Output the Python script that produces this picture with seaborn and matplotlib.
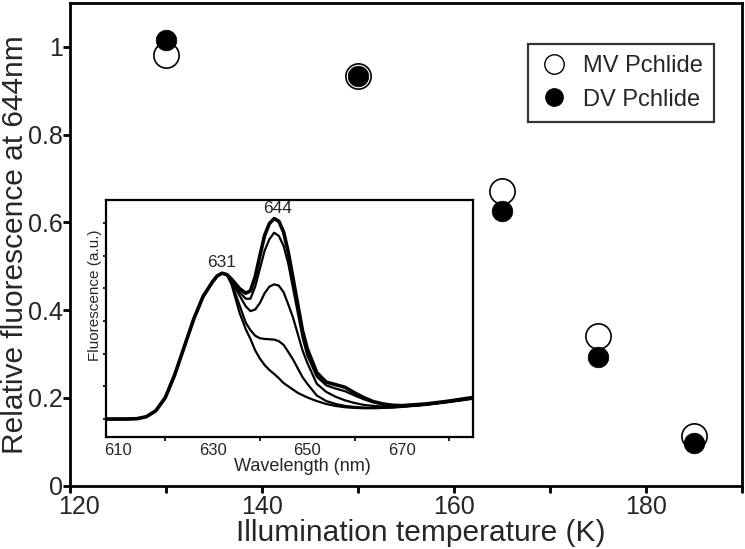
import matplotlib
matplotlib.use("Agg")
import matplotlib.pyplot as plt
import matplotlib.transforms as mtransforms
from matplotlib.lines import Line2D
import seaborn as sns
import pandas as pd

# ---------------- data ----------------
temps = [130, 150, 165, 175, 185]
mv_pchlide = [0.981, 0.933, 0.672, 0.341, 0.113]
dv_pchlide = [1.015, 0.933, 0.626, 0.294, 0.098]

x_ticks_major = [120, 140, 160, 180]
x_ticks_minor = [130, 150, 170, 190]
y_ticks = [0, 0.2, 0.4, 0.6, 0.8, 1]
y_tick_labels = ["0", "0.2", "0.4", "0.6", "0.8", "1"]

wavelength = [607.5, 610, 612, 614, 616, 618, 620, 622, 624, 626, 628, 630, 631, 632, 633,
              634, 635.7, 637, 638, 639, 640, 641, 642, 643, 644, 645, 646, 647, 648, 649,
              650, 652, 654, 656, 658, 660, 662, 664, 666, 668, 670, 675, 680, 685]
rise_shared = [0, 0, 0, 0.01, 0.07, 0.25, 0.65, 1.35, 2.2, 3.05, 3.75, 4.2, 4.38, 4.46, 4.42]
tail_a = [4.28, 3.99, 3.85, 3.92, 4.35, 5.0, 5.62, 5.98, 6.13, 6.05, 5.72, 5.1, 4.3, 3.5, 2.7,
          2.15, 1.42, 1.13, 1.05, 0.97, 0.8, 0.65, 0.53, 0.46, 0.42, 0.41, 0.46, 0.55, 0.66]
tail_b = [4.25, 3.89, 3.68, 3.68, 4.05, 4.6, 5.15, 5.5, 5.7, 5.6, 5.3, 4.75, 4.0, 3.25, 2.5,
          1.95, 1.3, 1.03, 0.93, 0.85, 0.72, 0.60, 0.51, 0.45, 0.42, 0.41, 0.46, 0.55, 0.65]
tail_c = [4.2, 3.78, 3.45, 3.30, 3.35, 3.55, 3.85, 4.05, 4.12, 4.08, 3.88, 3.5, 3.1, 2.6, 2.1,
          1.72, 1.08, 0.83, 0.68, 0.57, 0.49, 0.43, 0.40, 0.38, 0.38, 0.39, 0.45, 0.54, 0.64]
tail_d = [4.18, 3.48, 2.95, 2.72, 2.55, 2.47, 2.45, 2.44, 2.43, 2.38, 2.27, 2.05, 1.82, 1.55, 1.28,
          1.08, 0.72, 0.55, 0.46, 0.40, 0.37, 0.35, 0.34, 0.35, 0.36, 0.38, 0.44, 0.53, 0.63]
tail_e = [4.12, 3.25, 2.75, 2.45, 2.1, 1.85, 1.65, 1.5, 1.38, 1.25, 1.1, 1.0, 0.9, 0.8, 0.73,
          0.66, 0.55, 0.46, 0.40, 0.36, 0.34, 0.33, 0.33, 0.34, 0.35, 0.37, 0.43, 0.52, 0.62]
spectra_names = ["s1", "s2", "s3", "s4", "s5"]
spectra_tails = [tail_a, tail_b, tail_c, tail_d, tail_e]
spectra_widths = [2.6, 1.6, 1.6, 1.6, 1.6]

inset_xtick_labels = [610, 630, 650, 670]
inset_xtick_marks = [620, 640, 660, 680]
inset_ytick_marks = [0, 1, 2, 3, 4, 5, 6]

# ---------------- style ----------------
sns.set_theme(style="ticks")
plt.rcParams["font.family"] = ["Liberation Sans", "DejaVu Sans"]
plt.rcParams["axes.edgecolor"] = "black"

fig = plt.figure(figsize=(7.45, 5.49), dpi=100)
ax = fig.add_axes([0.0946, 0.1155, 0.9013, 0.879])

pts = pd.DataFrame({"temp": temps, "mv": mv_pchlide, "dv": dv_pchlide})
sns.scatterplot(data=pts, x="temp", y="mv", ax=ax, s=330, marker="o",
                facecolor="white", edgecolor="black", linewidth=1.2, zorder=3)
sns.scatterplot(data=pts, x="temp", y="dv", ax=ax, s=220, marker="o",
                color="black", edgecolor="black", linewidth=0.5, zorder=4)

ax.set_xlim(120, 190)
ax.set_ylim(0, 1.1)
ax.set_xticks(x_ticks_major)
ax.set_xticks(x_ticks_minor, minor=True)
ax.set_yticks(y_ticks)
ax.set_yticklabels(y_tick_labels)
for s in ax.spines.values():
    s.set_linewidth(2.0)
    s.set_color("black")
ax.tick_params(axis="both", which="both", direction="out", length=5, width=2,
               color="black", labelsize=18, pad=2)
ax.tick_params(axis="y", which="both", pad=0.5)
# nudge the first x tick label ("120") right, as in the reference
first = ax.get_xticklabels()[0]
first.set_transform(first.get_transform() +
                    mtransforms.ScaledTranslation(9 / 100, 0, fig.dpi_scale_trans))
ax.set_xlabel("Illumination temperature (K)", fontsize=21.5)
ax.xaxis.set_label_coords(0.522, -0.069)
ax.set_ylabel("Relative fluorescence at 644nm", fontsize=21.5)
ax.yaxis.set_label_coords(-0.0612, 0.5)

handles = [
    Line2D([], [], marker="o", linestyle="none", markersize=14, markerfacecolor="white",
           markeredgecolor="black", markeredgewidth=1.0),
    Line2D([], [], marker="o", linestyle="none", markersize=12.5, markerfacecolor="black",
           markeredgecolor="black"),
]
leg = ax.legend(handles, ["MV Pchlide", "DV Pchlide"], loc="upper left",
                bbox_to_anchor=(0.6815, 0.915), fontsize=17, frameon=True,
                fancybox=False, edgecolor="black", handletextpad=0.65,
                borderpad=0.48, labelspacing=0.48, handlelength=1.2, borderaxespad=0)
leg.get_frame().set_linewidth(1.6)

# ---------------- inset ----------------
axi = fig.add_axes([0.1423, 0.204, 0.4926, 0.4317], zorder=5)
axi.set_facecolor("white")
rows = []
for name, tail in zip(spectra_names, spectra_tails):
    vals = rise_shared + tail
    for w, v in zip(wavelength, vals):
        rows.append({"wl": w, "val": v, "curve": name})
spec = pd.DataFrame(rows)
for name, lw in zip(spectra_names, spectra_widths):
    sns.lineplot(data=spec[spec["curve"] == name], x="wl", y="val", ax=axi,
                 color="black", linewidth=lw, legend=False)

axi.set_xlim(607.5, 685)
axi.set_ylim(-0.55, 6.7)
axi.set_xticks(inset_xtick_labels)
axi.set_xticklabels([str(v) for v in inset_xtick_labels])
axi.set_xticks(inset_xtick_marks, minor=True)
axi.tick_params(axis="x", which="major", length=0, labelsize=12, pad=4)
axi.tick_params(axis="x", which="minor", length=3, width=1.2, color="black")
axi.set_yticks(inset_ytick_marks)
axi.set_yticklabels([])
axi.tick_params(axis="y", which="major", length=2, width=1.2, color="black")
for s in axi.spines.values():
    s.set_linewidth(1.6)
    s.set_color("black")
axi.set_xlabel("Wavelength (nm)", fontsize=13)
axi.xaxis.set_label_coords(0.534, -0.088)
axi.set_ylabel("Fluorescence (a.u.)", fontsize=11)
axi.yaxis.set_label_coords(-0.012, 0.6)
axi.text(632, 4.8, "631", fontsize=12.5, ha="center", va="center")
axi.text(643.7, 6.43, "644", fontsize=12.5, ha="center", va="center")

fig.savefig("out.png", dpi=100)
